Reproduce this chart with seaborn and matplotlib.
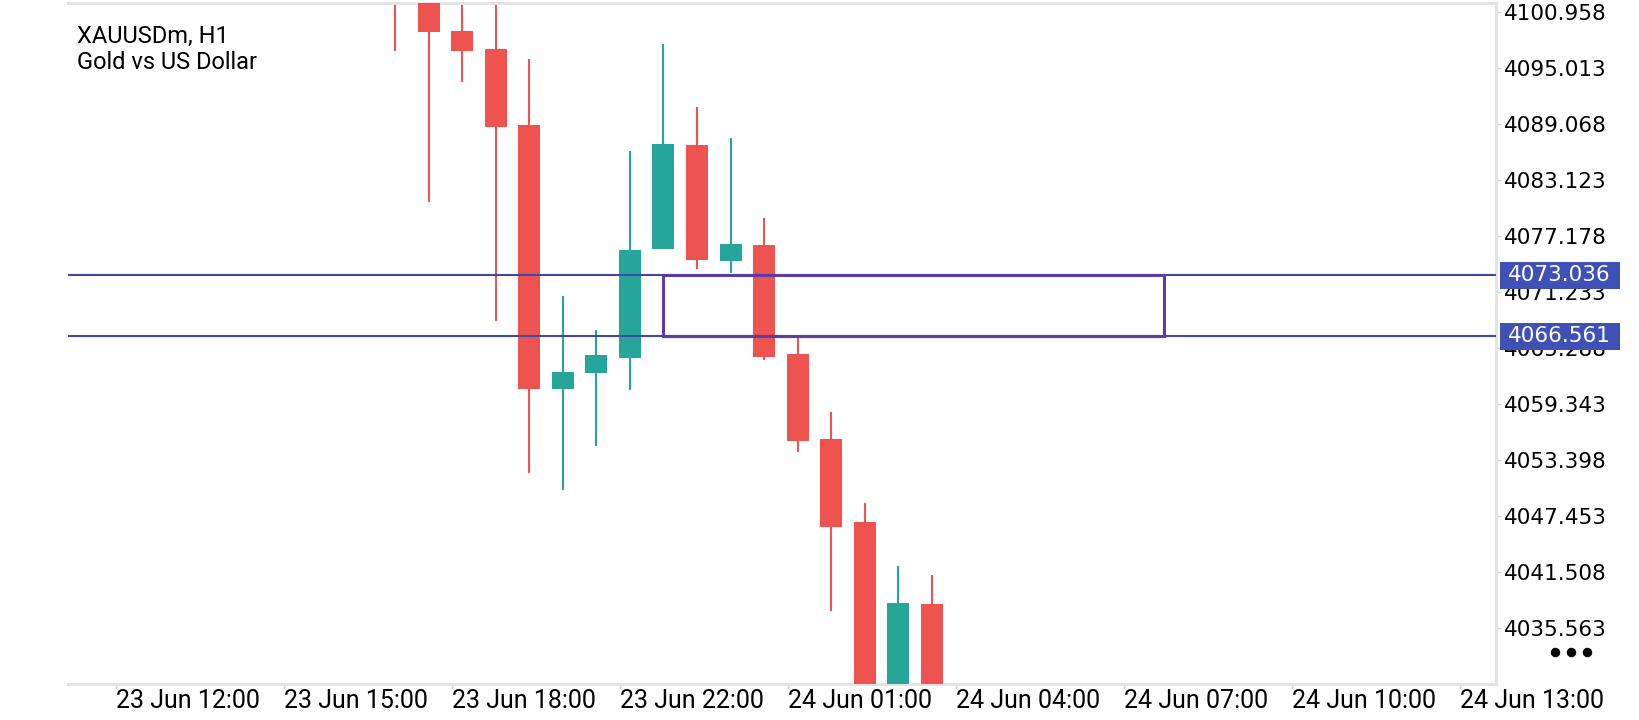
import numpy as np
import pandas as pd
import matplotlib
matplotlib.use("Agg")
import matplotlib.pyplot as plt
import matplotlib.transforms as mtransforms
from matplotlib.patches import Rectangle
from matplotlib.lines import Line2D
import seaborn as sns

# ---------------- data ----------------
symbol_title = "XAUUSDm, H1"
symbol_desc = "Gold vs US Dollar"

opens = [4104.5, 4103.2, 4098.95, 4097.05, 4089.0, 4061.0, 4062.7, 4064.3, 4075.8,
         4086.9, 4074.6, 4076.25, 4064.7, 4055.65, 4046.8, 4026.6, 4038.15]
highs = [4107.0, 4104.8, 4103.4, 4102.8, 4096.0, 4070.8, 4067.2, 4086.2, 4097.6,
         4090.9, 4087.6, 4079.1, 4066.5, 4058.5, 4048.9, 4042.2, 4041.2]
lows = [4096.9, 4080.85, 4093.6, 4068.2, 4052.0, 4050.2, 4054.9, 4060.9, 4075.8,
        4073.7, 4073.25, 4064.0, 4054.3, 4037.45, 4022.0, 4024.5, 4025.0]
closes = [4103.2, 4098.9, 4096.9, 4088.8, 4061.0, 4062.8, 4064.6, 4075.7, 4087.0,
          4074.7, 4076.35, 4064.4, 4055.5, 4046.35, 4026.5, 4038.3, 4028.0]

x_tick_labels = ["23 Jun 12:00", "23 Jun 15:00", "23 Jun 18:00", "23 Jun 22:00",
                 "24 Jun 01:00", "24 Jun 04:00", "24 Jun 07:00", "24 Jun 10:00",
                 "24 Jun 13:00"]
y_tick_labels = ["4100.958", "4095.013", "4089.068", "4083.123", "4077.178",
                 "4071.233", "4065.288", "4059.343", "4053.398", "4047.453",
                 "4041.508", "4035.563"]

level_upper = 4073.036
level_lower = 4066.561
zone_start_bar = 8
zone_end_bar = 22.9

# ---------------- style ----------------
sns.set_theme(style="white")
plt.rcParams["font.family"] = ["Roboto", "DejaVu Sans"]

UP = "#26a69a"
DOWN = "#ef5350"
LINE = "#3f48a5"
ZONE = "#5b3ca8"
LABEL_BG = "#3f51b5"
FRAME = "#e4e4e4"
TICK = "#cfcfcf"

df = pd.DataFrame({"open": opens, "high": highs, "low": lows, "close": closes})
df["bar"] = np.arange(len(df))
df["bull"] = df["close"] >= df["open"]
df["color"] = np.where(df["bull"], UP, DOWN)
df["body_lo"] = df[["open", "close"]].min(axis=1)
df["body_h"] = (df["close"] - df["open"]).abs()

W, H = 1640, 720
fig = plt.figure(figsize=(W / 100, H / 100), dpi=100)
fig.patch.set_facecolor("white")
ax = fig.add_axes([68 / W, 36 / H, 1428 / W, 681 / H])
ax.set_facecolor("white")

ymin, ymax = 4029.65, 4101.95
xmin, xmax = -9.744, 32.807
ax.set_xlim(xmin, xmax)
ax.set_ylim(ymin, ymax)

# candles
ax.vlines(df["bar"], df["low"], df["high"], colors=df["color"], lw=1.5, zorder=2)
ax.bar(df["bar"], df["body_h"], bottom=df["body_lo"], width=0.655,
       color=df["color"], linewidth=0, zorder=3)

# levels and zone
for lvl in (level_upper, level_lower):
    ax.axhline(lvl, color=LINE, lw=1.5, zorder=4)
ax.add_patch(Rectangle((zone_start_bar, level_lower), zone_end_bar - zone_start_bar,
                       level_upper - level_lower, fill=False, ec=ZONE, lw=2.2, zorder=5))

# axes frame
for side in ("top", "right", "bottom"):
    ax.spines[side].set_visible(True)
    ax.spines[side].set_color(FRAME)
    ax.spines[side].set_linewidth(2.2)
ax.spines["left"].set_visible(False)

# y axis on right
ax.yaxis.tick_right()
ax.set_yticks([float(t) for t in y_tick_labels])
ax.set_yticklabels(y_tick_labels, fontfamily="DejaVu Sans", fontsize=15.5, color="black")
ax.tick_params(axis="y", right=True, left=False, length=3.6, width=1, color=TICK, pad=2)

# x axis
tick_start, tick_step = -8.313, 5.006
ax.set_xticks([tick_start + tick_step * i for i in range(len(x_tick_labels))])
ax.set_xticklabels(x_tick_labels, fontsize=18, color="black", ha="left")
ax.tick_params(axis="x", bottom=True, length=3, width=1, color=TICK, pad=0.5)
ax.grid(False)

# level price labels on the axis
px_per_unit = ax.bbox.height / (ymax - ymin)
box_h = 27 / px_per_unit
trans = mtransforms.blended_transform_factory(ax.transAxes, ax.transData)
ax_w = ax.bbox.width
for lvl in (level_upper, level_lower):
    ax.add_patch(Rectangle((1432 / ax_w, lvl - box_h / 2), 120 / ax_w, box_h,
                           transform=trans, fc=LABEL_BG, ec="none",
                           clip_on=False, zorder=6))
    ax.text(1440 / ax_w, lvl, f"{lvl:.3f}", transform=trans, ha="left", va="center",
            fontsize=15.5, fontfamily="DejaVu Sans", color="white",
            clip_on=False, zorder=7)

# title
ax.text(9 / ax_w, 1 - 40.3 / 681, symbol_title, transform=ax.transAxes,
        fontsize=17, va="baseline", ha="left", color="black")
ax.text(9 / ax_w, 1 - 66 / 681, symbol_desc, transform=ax.transAxes,
        fontsize=17, va="baseline", ha="left", color="black")

# menu dots
fig.add_artist(Line2D([1555 / W, 1571 / W, 1587 / W], [1 - 651.7 / H] * 3,
                      transform=fig.transFigure, marker="o", linestyle="none",
                      ms=5.8, color="black"))

fig.savefig("out.png", dpi=100, facecolor="white")
